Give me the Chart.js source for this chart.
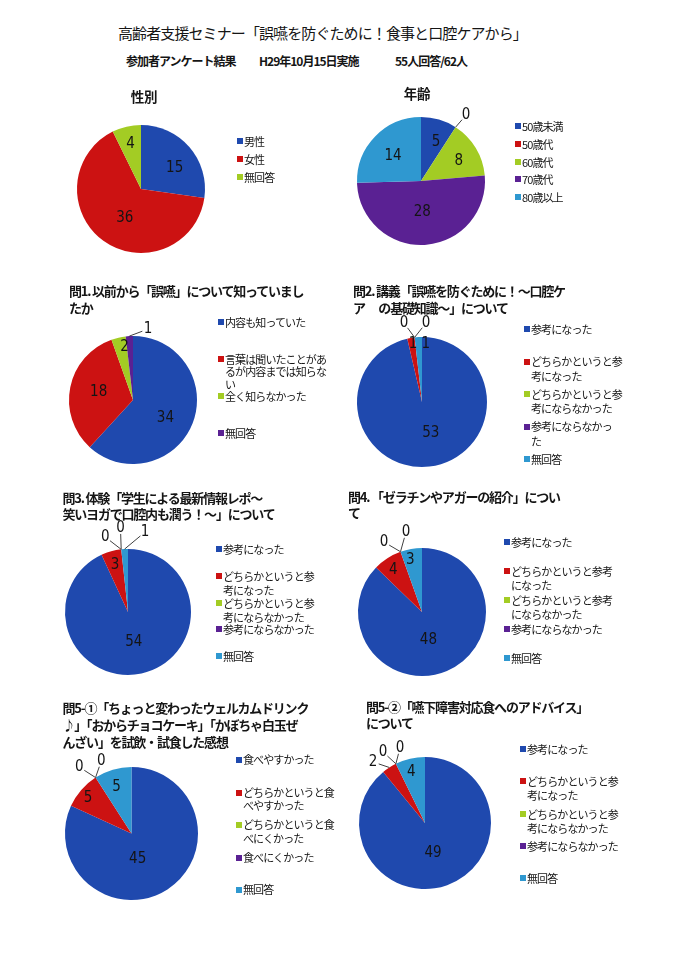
<!DOCTYPE html>
<html><head><meta charset="utf-8">
<script src="https://cdn.jsdelivr.net/npm/chart.js@4.4.0/dist/chart.umd.min.js"></script>
<style>
html,body{margin:0;padding:0;background:#fff;}
body{width:700px;height:963px;position:relative;overflow:hidden;font-family:'Noto Sans CJK JP',sans-serif;color:#151515;}
.abs{position:absolute;white-space:pre;}
.main{font-size:15px;letter-spacing:-0.9px;line-height:20px;}
.sub{font-size:12px;font-weight:bold;letter-spacing:-1px;line-height:16px;}
.title{font-weight:bold;font-size:13px;letter-spacing:-1.2px;}
.leg{position:absolute;font-size:11px;letter-spacing:-0.9px;white-space:pre;}
.sq{position:absolute;width:6px;height:6px;}
canvas{position:absolute;}
</style></head><body>
<script>
// ---------- data ----------
const genderCategories = ['男性','女性','無回答'];
const genderValues = [15,36,4];
const ageCategories = ['50歳未満','50歳代','60歳代','70歳代','80歳以上'];
const ageValues = [5,0,8,28,14];
const q1Categories = ['内容も知っていた','言葉は聞いたことがあるが内容までは知らない','全く知らなかった','無回答'];
const q1Values = [34,18,2,1];
const refCategories = ['参考になった','どちらかというと参考になった','どちらかというと参考にならなかった','参考にならなかった','無回答'];
const q2Values = [53,1,0,0,1];
const q3Values = [54,3,0,0,1];
const q4Values = [48,4,0,0,3];
const q51Categories = ['食べやすかった','どちらかというと食べやすかった','どちらかというと食べにくかった','食べにくかった','無回答'];
const q51Values = [45,5,0,0,5];
const q52Values = [49,2,0,0,4];
const mainTitle = '高齢者支援セミナー「誤嚥を防ぐために！食事と口腔ケアから」';
const subTitles = ['参加者アンケート結果','H29年10月15日実施','55人回答/62人'];

// ---------- styles / layout ----------
const palette = ['#1f49ae','#cc1212','#a3cc24','#5a2193','#2f98d0'];

const specs = [
  {cats:genderCategories, vals:genderValues, cx:141, cy:189, r:64,
   title:{lines:['性別'], x:144, y:96, center:true, lh:17},
   place:[{f:.62,a:9},{f:.52,a:-7},{f:.72,a:0}],
   legend:{x:244, y:141, step:18, lh:14, breaks:[]}},
  {cats:ageCategories, vals:ageValues, cx:421, cy:181, r:64,
   title:{lines:['年齢'], x:417, y:93, center:true, lh:17},
   place:[{f:.65,a:5},{out:1,dx:10.4,dy:-12},{f:.67,a:3},{f:.48,a:1},{f:.58,a:-3}],
   legend:{x:522, y:126, step:17.75, lh:14, breaks:[]}},
  {cats:q1Categories, vals:q1Values, cx:133, cy:400, r:64,
   title:{lines:['問1. 以前から「誤嚥」について知っていまし','たか'], x:69, y:290, lh:17},
   place:[{f:.58,a:8},{f:.55,a:1.5},{f:.83,a:4},{out:1,dx:18.6,dy:-7}],
   legend:{x:225, y:322, step:37, lh:12.5, breaks:[null,[10,20]]}},
  {cats:refCategories, vals:q2Values, cx:422, cy:402, r:65,
   title:{lines:['問2. 講義「誤嚥を防ぐために！～口腔ケ','ア　 の基礎知識～」について'], x:353, y:290, lh:17},
   place:[{f:.5,a:-9},{f:.9,a:1},{out:1,dx:-10.6,dy:-14.4},{out:1,dx:11.4,dy:-14.4},{f:.9,a:7}],
   legend:{x:531, y:329, step:32.5, lh:14.5, breaks:[null,[9],[9],[8]]}},
  {cats:refCategories, vals:q3Values, cx:128, cy:612, r:63,
   title:{lines:['問3. 体験「学生による最新情報レポ～','笑いヨガで口腔内も潤う！～」について'], x:62.5, y:498, lh:15.5},
   place:[{f:.49,a:1.5},{f:.77,a:0},{out:1,dx:-16,dy:-12.4},{out:1,dx:-0.7,dy:-21.4},{out:1,dx:20.4,dy:-17}],
   legend:{x:223, y:549, step:26.8, lh:14, breaks:[null,[9],[9]]}},
  {cats:refCategories, vals:q4Values, cx:422, cy:612, r:64,
   title:{lines:['問4. 「ゼラチンやアガーの紹介」につい','て'], x:348, y:497, lh:16},
   place:[{f:.45,a:10},{f:.79,a:-2},{out:1,dx:-16.5,dy:-9.7},{out:1,dx:5.5,dy:-19.7},{f:.83,a:-3}],
   legend:{x:511, y:542, step:29, lh:14.5, breaks:[null,[10],[10]]}},
  {cats:q51Categories, vals:q51Values, cx:131.5, cy:833.5, r:66.5,
   title:{lines:['問5-①「ちょっと変わったウェルカムドリンク','♪」「おからチョコケーキ」「かぼちゃ白玉ぜ','んざい」を試飲・試食した感想'], x:62.5, y:707, lh:17},
   place:[{f:.39,a:19},{f:.84,a:-2},{out:1,dx:-16.3,dy:-10.5},{out:1,dx:5.7,dy:-16.5},{f:.73,a:-1.5}],
   legend:{x:243, y:760, step:32.5, lh:13.5, breaks:[null,[9],[9]]}},
  {cats:refCategories, vals:q52Values, cx:425, cy:823, r:66,
   title:{lines:['問5-②「嚥下障害対応食へのアドバイス」','について'], x:366, y:707, lh:16},
   place:[{f:.47,a:4.6},{out:1,dx:-16.3,dy:-5.5},{out:1,dx:-12.9,dy:-11.8},{out:1,dx:4.1,dy:-15.8},{f:.8,a:-2}],
   legend:{x:527, y:749, step:32.25, lh:14, breaks:[null,[9],[9]]}}
];

function addDiv(cls, text, left, top, extra) {
  const d = document.createElement('div');
  d.className = cls; d.textContent = text;
  d.style.left = left + 'px'; d.style.top = top + 'px';
  if (extra) Object.assign(d.style, extra);
  document.body.appendChild(d);
  return d;
}

// header
addDiv('abs main', mainTitle, 118, 23);
[126,259,395].forEach((x,i)=>addDiv('abs sub', subTitles[i], x, 53));

const pieLabels = {
  id:'pieLabels',
  afterDatasetsDraw(chart, args, opts) {
    const ctx = chart.ctx;
    const meta = chart.getDatasetMeta(0);
    const values = chart.data.datasets[0].data;
    ctx.save();
    ctx.font = '15px "Liberation Sans Narrow", "DejaVu Sans Condensed", sans-serif';
    ctx.fillStyle = '#141414';
    ctx.textAlign = 'center'; ctx.textBaseline = 'middle';
    ctx.strokeStyle = '#404040'; ctx.lineWidth = 1;
    meta.data.forEach((arc, i) => {
      const p = arc.getProps(['x','y','startAngle','endAngle','outerRadius'], true);
      const mid = (p.startAngle + p.endAngle) / 2;
      const s = opts.place[i];
      let lx, ly;
      if (s.out) {
        const ex = p.x + Math.cos(mid) * p.outerRadius, ey = p.y + Math.sin(mid) * p.outerRadius;
        lx = ex + s.dx; ly = ey + s.dy;
        const len = Math.hypot(s.dx, s.dy);
        const tx = lx - s.dx / len * 6, ty = ly - s.dy / len * 6;
        ctx.beginPath(); ctx.moveTo(ex, ey); ctx.lineTo(tx, ty); ctx.stroke();
      } else {
        const a = mid + s.a * Math.PI / 180;
        lx = p.x + Math.cos(a) * s.f * p.outerRadius;
        ly = p.y + Math.sin(a) * s.f * p.outerRadius;
      }
      ctx.fillText(String(values[i]), lx, ly);
    });
    ctx.restore();
  }
};

const PX = 45, PY = 35;
specs.forEach(sp => {
  const cv = document.createElement('canvas');
  const W = 2 * sp.r + 2 * PX, H = 2 * sp.r + 2 * PY;
  cv.width = W; cv.height = H;
  cv.style.width = W + 'px'; cv.style.height = H + 'px';
  cv.style.left = (sp.cx - sp.r - PX) + 'px';
  cv.style.top = (sp.cy - sp.r - PY) + 'px';
  document.body.appendChild(cv);
  new Chart(cv, {
    type:'pie',
    data:{labels:sp.cats, datasets:[{data:sp.vals, backgroundColor:palette.slice(0, sp.cats.length), borderWidth:0}]},
    options:{
      responsive:false, animation:false,
      layout:{padding:{left:PX,right:PX,top:PY,bottom:PY}},
      plugins:{legend:{display:false}, tooltip:{enabled:false}, pieLabels:{place:sp.place}}
    },
    plugins:[pieLabels]
  });
  // title
  const t = sp.title;
  const td = addDiv('abs title', t.lines.join('\n'), t.x, t.y - t.lh / 2, {lineHeight: t.lh + 'px'});
  if (t.center) { td.style.transform = 'translateX(-50%)'; td.style.fontSize = '13.5px'; td.style.letterSpacing = '-0.3px'; }
  // legend
  const L = sp.legend;
  sp.cats.forEach((c, i) => {
    const y = L.y + i * L.step;
    const sq = document.createElement('div');
    sq.className = 'sq';
    sq.style.background = palette[i];
    sq.style.left = (L.x - 7) + 'px';
    sq.style.top = (y - 3) + 'px';
    document.body.appendChild(sq);
    let txt = c;
    const br = L.breaks[i];
    if (br) {
      let parts = [], prev = 0;
      br.forEach(b => { parts.push(c.slice(prev, b)); prev = b; });
      parts.push(c.slice(prev));
      txt = parts.join('\n');
    }
    addDiv('leg', txt, L.x, y - L.lh / 2, {lineHeight: L.lh + 'px'});
  });
});
</script>
</body></html>
